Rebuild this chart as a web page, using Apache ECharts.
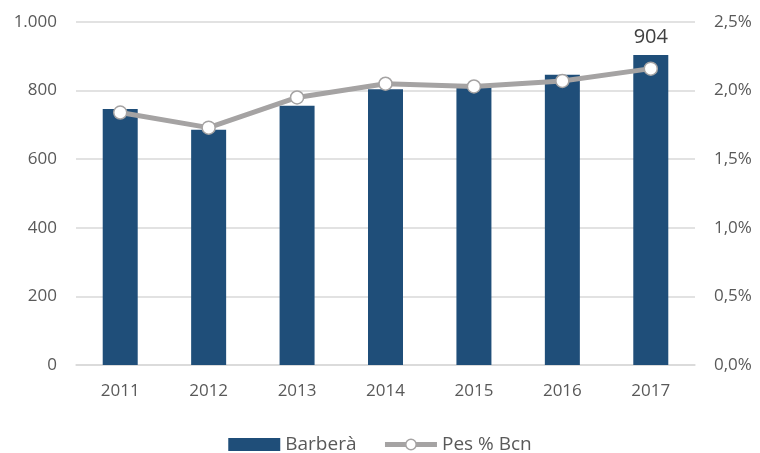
<!DOCTYPE html>
<html>
<head>
<meta charset="utf-8">
<script src="https://cdn.jsdelivr.net/npm/echarts@6/dist/echarts.min.js"></script>
<style>
  html, body { margin: 0; padding: 0; background: #fff; }
  #chart { width: 760px; height: 453px; }
</style>
</head>
<body>
<div id="chart"></div>
<script>
const years = ['2011', '2012', '2013', '2014', '2015', '2016', '2017']
const barbera = [746, 686, 756, 804, 810, 846, 904]
const pesBcn = [1.84, 1.73, 1.95, 2.05, 2.03, 2.07, 2.16]

const font = 'Open Sans'
const grey = '#595959'
const lineGrey = '#a5a3a3'
const blue = '#1f4e79'

const fmtThousands = v => String(v).replace(/\B(?=(\d{3})+(?!\d))/g, '.')
const fmtPct = v => v.toFixed(1).replace('.', ',') + '%'

const options = {
  animation: false,
  textStyle: { fontFamily: font },
  grid: { left: 76, right: 65, top: 22, bottom: 88 },
  legend: {
    top: 435,
    left: 'center',
    padding: 0,
    itemWidth: 52,
    itemHeight: 13,
    itemGap: 26,
    textStyle: { fontSize: 19, color: grey, fontFamily: font },
    data: [
      { name: 'Barberà', icon: 'rect', itemStyle: { color: blue } },
      {
        name: 'Pes % Bcn',
        itemStyle: { color: '#fff', borderColor: lineGrey, borderWidth: 1.5 },
        lineStyle: { color: lineGrey, width: 5 },
      },
    ],
  },
  xAxis: {
    type: 'category',
    data: years,
    axisLine: { lineStyle: { color: '#d9d9d9', width: 1.5 } },
    axisTick: { show: false },
    axisLabel: { fontSize: 17, color: grey, margin: 18 },
  },
  yAxis: [
    {
      type: 'value',
      min: 0,
      max: 1000,
      interval: 200,
      axisLine: { show: false },
      axisTick: { show: false },
      splitLine: { lineStyle: { color: '#d9d9d9', width: 1.5 } },
      axisLabel: { fontSize: 17, color: grey, margin: 19, formatter: fmtThousands },
    },
    {
      type: 'value',
      min: 0,
      max: 2.5,
      interval: 0.5,
      axisLine: { show: false },
      axisTick: { show: false },
      splitLine: { show: false },
      axisLabel: { fontSize: 17, color: grey, margin: 19, formatter: fmtPct },
    },
  ],
  series: [
    {
      name: 'Barberà',
      type: 'bar',
      data: barbera,
      barWidth: 35,
      itemStyle: { color: blue },
      label: {
        show: true,
        position: 'top',
        distance: 8,
        fontSize: 20,
        color: '#404040',
        formatter: p => (p.dataIndex === barbera.length - 1 ? p.value : ''),
      },
    },
    {
      name: 'Pes % Bcn',
      type: 'line',
      yAxisIndex: 1,
      data: pesBcn,
      symbol: 'circle',
      symbolSize: 13,
      lineStyle: { color: lineGrey, width: 5 },
      itemStyle: { color: '#ffffff', borderColor: lineGrey, borderWidth: 1.5 },
    },
  ],
}

const chart = echarts.init(document.getElementById('chart'))
chart.setOption(options)
</script>
</body>
</html>
